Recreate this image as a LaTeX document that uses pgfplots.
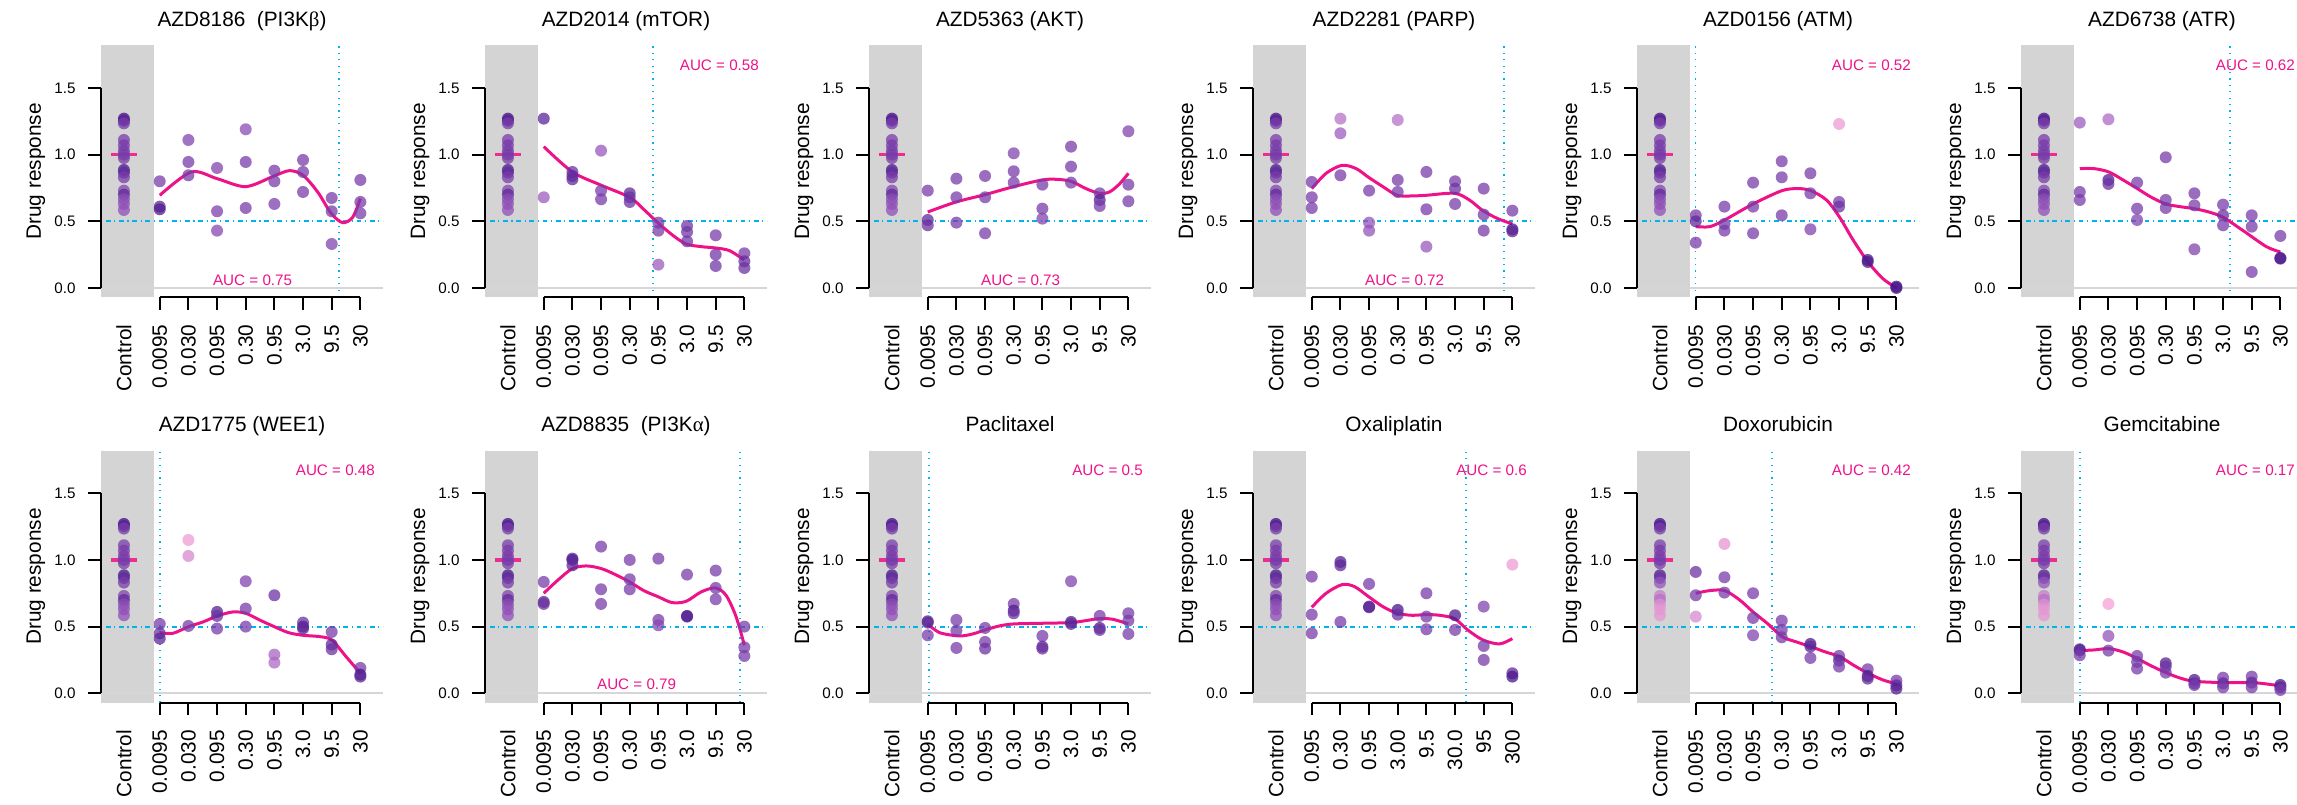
\documentclass[border=0pt]{standalone}
\usepackage{fontspec}
\setmainfont{Liberation Sans}
\newfontfamily\grk{Liberation Serif}
\usepackage{pgfplots}
\usepackage{pgfplotstable}
\pgfplotsset{compat=1.18}

\definecolor{boxgray}{RGB}{212,212,212}
\definecolor{zerogray}{RGB}{214,214,214}
\definecolor{skyb}{RGB}{0,178,238}
\definecolor{fitpink}{RGB}{238,18,137}

\newcommand{\fbig}{\fontsize{10.4}{12}\selectfont}
\newcommand{\fsmall}{\fontsize{7.6}{9}\selectfont}

% control wells (same in every panel, colours differ in two)
\pgfplotstableread{
x y c
-0.25 1.27 0
-0.25 1.255 0.4
-0.25 1.235 1
-0.25 1.11 1
-0.25 1.07 1
-0.25 1.03 1
-0.25 1.00 1
-0.25 0.975 1
-0.25 0.885 0.2
-0.25 0.865 0.6
-0.25 0.83 1
-0.25 0.73 1.2
-0.25 0.70 0.6
-0.25 0.665 1.4
-0.25 0.63 1.5
-0.25 0.585 1.5
}\ctrlA
\pgfplotstableread{
x y c
-0.25 1.27 0
-0.25 1.255 0.4
-0.25 1.235 1
-0.25 1.11 1
-0.25 1.07 1
-0.25 1.03 1
-0.25 1.00 1
-0.25 0.975 1
-0.25 0.885 0.3
-0.25 0.865 0.8
-0.25 0.83 1.6
-0.25 0.73 2.4
-0.25 0.70 2.2
-0.25 0.665 2.7
-0.25 0.63 2.8
-0.25 0.585 2.8
}\ctrlB

% doses: AZD8186
\pgfplotstableread{
x y c
1 0.80 1
1 0.61 0.6
1 0.59 0.3
2 1.11 1.2
2 0.945 1
2 0.845 1
3 0.90 1.2
3 0.575 1.1
3 0.43 1.3
4 1.19 1.4
4 0.945 1
4 0.60 1
5 0.88 1
5 0.80 1
5 0.63 1.1
6 0.96 1
6 0.87 1
6 0.72 1
7 0.675 1
7 0.575 1
7 0.33 1.2
8 0.81 1
8 0.645 1
8 0.56 1
}\ptsA
\pgfplotstableread{
x y
1.0 0.695
2.10 0.87
3.0 0.82
4.0 0.76
4.99 0.84
5.53 0.88
6.0 0.845
6.51 0.72
6.98 0.56
7.38 0.49
7.73 0.53
8.0 0.67
}\fitA

% AZD2014
\pgfplotstableread{
x y c
1 1.27 0.5
1 0.68 1.8
2 0.87 0.8
2 0.84 0.6
2 0.815 0.6
3 1.03 1.7
3 0.73 1
3 0.665 1
4 0.71 0.6
4 0.68 0.8
4 0.645 0.8
5 0.49 1
5 0.43 1
5 0.175 1.8
6 0.465 0.9
6 0.42 0.9
6 0.35 0.9
7 0.395 1
7 0.25 0.9
7 0.165 0.9
8 0.26 1
8 0.20 0.7
8 0.15 0.8
}\ptsB
\pgfplotstableread{
x y
1.0 1.06
2.0 0.87
3.01 0.77
4.0 0.68
4.46 0.595
4.98 0.49
5.5 0.395
5.97 0.33
6.49 0.31
6.99 0.30
7.48 0.28
7.99 0.21
}\fitB

% AZD5363
\pgfplotstableread{
x y c
1 0.73 1
1 0.51 0.6
1 0.47 0.8
2 0.82 1
2 0.68 1
2 0.49 1
3 0.84 1
3 0.68 1
3 0.41 1
4 1.01 1.2
4 0.875 1
4 0.79 1
5 0.775 1
5 0.595 1
5 0.52 1.2
6 1.06 1
6 0.91 1
6 0.79 1
7 0.71 1
7 0.66 0.4
7 0.615 1
8 1.175 1.2
8 0.775 1
8 0.65 1
}\ptsC
\pgfplotstableread{
x y
1.0 0.57
1.99 0.645
3.0 0.70
4.0 0.76
4.99 0.81
5.48 0.815
6.0 0.80
6.52 0.745
6.99 0.71
7.34 0.72
7.69 0.78
8.0 0.86
}\fitC

% AZD2281
\pgfplotstableread{
x y c
1 0.795 1
1 0.68 1
1 0.60 1
2 1.27 2.2
2 1.16 1.8
2 0.845 1
3 0.73 1
3 0.49 1.6
3 0.43 1.6
4 1.26 2.2
4 0.81 1
4 0.72 1
5 0.87 1
5 0.59 1
5 0.31 1.7
6 0.80 1
6 0.745 0.8
6 0.63 1
7 0.745 1
7 0.55 1
7 0.43 1
8 0.58 1
8 0.44 0.2
8 0.425 0.5
}\ptsD
\pgfplotstableread{
x y
1.0 0.745
1.5 0.86
2.06 0.92
2.55 0.895
2.98 0.83
3.48 0.76
3.98 0.695
4.47 0.69
4.99 0.695
5.98 0.71
6.5 0.66
6.97 0.58
7.49 0.52
8.0 0.48
}\fitD

% AZD0156
\pgfplotstableread{
x y c
1 0.545 1
1 0.50 0.6
1 0.34 1
2 0.61 1
2 0.48 1
2 0.43 1
3 0.79 1
3 0.61 1
3 0.41 1
4 0.95 1
4 0.83 1
4 0.545 1
5 0.86 1
5 0.71 1
5 0.44 1.2
6 1.23 2.9
6 0.645 1
6 0.61 0.8
7 0.21 0.2
7 0.195 0.3
8 0.01 0
8 0.0 0.2
}\ptsE
\pgfplotstableread{
x y
1.0 0.46
1.49 0.46
2.01 0.51
3.0 0.63
4.01 0.73
4.57 0.745
5.01 0.73
5.56 0.66
6.02 0.53
6.49 0.36
7.01 0.195
7.53 0.07
8.0 0.0
}\fitE

% AZD6738
\pgfplotstableread{
x y c
1 1.24 1.8
1 0.72 1
1 0.66 1
2 1.265 2.1
2 0.81 0.3
2 0.78 0.8
3 0.79 1
3 0.595 1
3 0.51 1.2
4 0.98 1
4 0.66 1
4 0.60 1
5 0.71 1
5 0.62 1
5 0.29 1.2
6 0.625 1
6 0.545 0.8
6 0.47 1
7 0.545 1
7 0.46 1
7 0.12 1
8 0.39 1
8 0.225 0.2
8 0.22 0.3
}\ptsF
\pgfplotstableread{
x y
1.0 0.895
1.5 0.895
2.01 0.87
2.51 0.81
3.01 0.745
3.5 0.68
4.0 0.63
4.49 0.61
4.99 0.595
5.5 0.57
6.0 0.53
6.7 0.43
7.51 0.31
8.0 0.27
}\fitF

% AZD1775
\pgfplotstableread{
x y c
1 0.52 1
1 0.45 0.8
1 0.41 0.5
2 1.15 2.9
2 1.03 2.6
2 0.505 1
3 0.61 0.4
3 0.58 0.8
3 0.485 1
4 0.84 1.2
4 0.635 1
4 0.50 1
5 0.735 0.8
5 0.29 2
5 0.23 2.1
6 0.53 0.8
6 0.50 0.4
6 0.485 0.6
7 0.46 1
7 0.365 0.6
7 0.33 0.8
8 0.19 1
8 0.14 0.2
8 0.125 0.5
}\ptsG
\pgfplotstableread{
x y
1.0 0.455
1.46 0.45
2.01 0.50
2.51 0.535
3.01 0.58
3.55 0.61
4.0 0.60
4.48 0.55
4.99 0.50
5.49 0.455
5.99 0.435
6.57 0.425
7.0 0.40
7.5 0.275
8.0 0.15
}\fitG

% AZD8835
\pgfplotstableread{
x y c
1 0.835 1
1 0.685 0.4
1 0.67 0.8
2 1.01 0.6
2 1.00 0.3
2 0.96 0.6
3 1.10 1
3 0.78 1
3 0.67 1
4 1.00 1
4 0.855 1
4 0.78 1
5 1.01 1
5 0.55 1
5 0.51 1.3
6 0.89 1
6 0.58 0.2
6 0.575 0.4
7 0.92 1
7 0.79 1
7 0.705 1
8 0.50 1
8 0.345 1
8 0.28 1
}\ptsH
\pgfplotstableread{
x y
1.0 0.75
1.5 0.85
2.0 0.935
2.49 0.955
3.01 0.935
3.5 0.89
4.0 0.835
4.49 0.77
4.98 0.725
5.48 0.68
5.97 0.69
6.49 0.76
6.99 0.79
7.36 0.735
7.71 0.575
8.0 0.36
}\fitH

% Paclitaxel
\pgfplotstableread{
x y c
1 0.54 0.3
1 0.53 0.6
1 0.435 1
2 0.55 1
2 0.47 1
2 0.34 1
3 0.49 1
3 0.385 1
3 0.335 0.8
4 0.67 1
4 0.62 0.3
4 0.60 0.8
5 0.43 1
5 0.35 0.5
5 0.335 0.8
6 0.84 1.2
6 0.535 0.3
6 0.52 0.6
7 0.58 1
7 0.49 0.4
7 0.475 0.8
8 0.60 1
8 0.545 1
8 0.445 1
}\ptsI
\pgfplotstableread{
x y
1.0 0.52
1.41 0.455
2.1 0.43
2.57 0.445
3.0 0.475
3.5 0.505
4.0 0.52
4.99 0.525
6.0 0.53
6.52 0.545
6.99 0.56
7.45 0.555
8.0 0.52
}\fitI

% Oxaliplatin
\pgfplotstableread{
x y c
1 0.875 1
1 0.59 1
1 0.45 1
2 0.985 0.4
2 0.96 0.6
2 0.535 1
3 0.82 1
3 0.65 0.3
3 0.645 0.5
4 0.625 0.2
4 0.59 0.8
5 0.75 1
5 0.575 1
5 0.48 1
6 0.585 0.3
6 0.475 1
7 0.65 1.2
7 0.355 1
7 0.25 1
8 0.965 2.9
8 0.15 0.6
8 0.125 0.2
}\ptsJ
\pgfplotstableread{
x y
1.0 0.645
1.5 0.75
2.06 0.815
2.49 0.80
2.98 0.725
3.48 0.65
3.98 0.60
4.49 0.585
4.99 0.59
5.45 0.585
5.98 0.56
6.44 0.475
6.97 0.40
7.55 0.37
8.0 0.41
}\fitJ

% Doxorubicin
\pgfplotstableread{
x y c
1 0.91 0.8
1 0.735 1
1 0.575 2.6
2 1.12 2.8
2 0.87 1
2 0.755 1
3 0.75 1
3 0.565 1
3 0.435 1.2
4 0.545 1
4 0.475 1
4 0.42 1
5 0.37 0.3
5 0.35 0.6
5 0.265 1
6 0.28 1
6 0.245 0.6
6 0.20 1
7 0.18 1
7 0.13 0.3
7 0.11 0.6
8 0.095 1
8 0.06 0.6
8 0.035 0.4
}\ptsK
\pgfplotstableread{
x y
1.0 0.75
1.49 0.77
2.01 0.77
2.53 0.70
3.0 0.61
3.52 0.52
4.01 0.425
4.51 0.385
5.01 0.35
5.52 0.31
6.02 0.275
6.51 0.21
7.01 0.15
7.53 0.10
8.0 0.07
}\fitK

% Gemcitabine
\pgfplotstableread{
x y c
1 0.33 0.3
1 0.32 0.5
1 0.285 1
2 0.67 3
2 0.43 1.6
2 0.32 1
3 0.28 1
3 0.235 1
3 0.185 1
4 0.225 0.4
4 0.20 0.8
4 0.155 1
5 0.10 0.3
5 0.075 0.6
5 0.062 1
6 0.117 1
6 0.075 0.6
6 0.045 1
7 0.125 1
7 0.08 0.6
7 0.045 1
8 0.062 0.2
8 0.045 0.5
8 0.025 1
}\ptsL
\pgfplotstableread{
x y
1.0 0.32
1.5 0.325
2.01 0.335
2.51 0.31
3.01 0.26
3.5 0.205
4.0 0.155
4.49 0.115
4.99 0.09
6.0 0.08
6.99 0.08
7.51 0.07
8.0 0.055
}\fitL

\pgfplotsset{
  panel/.style={
    scale only axis, width=141pt, height=126pt,
    xmin=-1.05, xmax=8.79, ymin=-0.07, ymax=1.82,
    clip=false,
    axis x line*=bottom, axis y line*=left,
    axis line style={draw=none,-},
    tick align=outside, major tick length=6.3pt,
    tick style={black, line width=1pt},
    xtick={1,2,3,4,5,6,7,8},
    ytick={0,0.5,1,1.5}, yticklabels={0.0,0.5,1.0,1.5},
    /pgf/number format/assume math mode=true,
    xticklabel style={rotate=90, anchor=east, font=\fbig, inner xsep=7.2pt, inner ysep=0pt},
    yticklabel style={anchor=east, font=\fsmall, inner xsep=6.2pt, inner ysep=0pt},
    colormap={pur}{rgb255=(62,14,132) rgb255=(120,60,170) rgb255=(165,100,195) rgb255=(244,162,214)},
    point meta min=0, point meta max=3,
  },
  stddoses/.style={xticklabels={0.0095,0.030,0.095,0.30,0.95,3.0,9.5,30}},
  oxadoses/.style={xticklabels={0.095,0.30,0.95,3.00,9.5,30.0,95,300}},
  dots/.style={scatter, only marks, mark=*, mark size=3pt, scatter src=explicit,
    scatter/use mapped color={draw=mapped color, fill=mapped color},
    mark options={fill opacity=0.75, draw opacity=0}},
  fit/.style={fitpink, line width=1.5pt, smooth, no marks},
}
\tikzset{
  half/.style={skyb, line width=0.9pt, dash pattern=on 0.6pt off 1.8pt on 2.4pt off 1.8pt},
  ic50/.style={skyb, line width=0.9pt, dash pattern=on 0.6pt off 2.6pt},
  auctop/.style={fitpink, font=\fsmall, anchor=base east, inner sep=0pt},
  aucbot/.style={fitpink, font=\fsmall, anchor=base, inner sep=0pt},
}

% #1 x, #2 y, #3 title, #4 control, #5 doses, #6 fit, #7 tick label style, #8 ic50 line and AUC
\newcommand{\drugpanel}[8]{%
\begin{axis}[panel, at={(#1,#2)}, anchor=south west, #7]
\fill[boxgray] (axis cs:-1.05,-0.07) rectangle (axis cs:0.8,1.82);
\draw[zerogray, line width=1pt] (axis cs:-1.05,0) -- (axis cs:8.79,0);
\draw[half] (axis cs:-1.05,0.5) -- (axis cs:8.79,0.5);
#8
\draw[line width=1pt] (axis cs:-1.05,0) -- (axis cs:-1.05,1.5);
\draw[line width=1pt] (axis cs:1,-0.07) -- (axis cs:8,-0.07);
\addplot[dots] table[x=x, y=y, meta=c] {#4};
\addplot[dots] table[x=x, y=y, meta=c] {#5};
\addplot[fit] table[x=x, y=y] {#6};
\draw[fitpink, line width=1.7pt, opacity=0.85] (axis cs:-0.71,1) -- (axis cs:0.21,1);
\node[rotate=90, anchor=east, inner sep=0pt, font=\fbig] at ([yshift=-13.5pt]axis cs:-0.25,-0.07) {Control};
\node[rotate=90, anchor=base, inner sep=0pt, font=\fbig] at ([xshift=-30pt]axis cs:-1.05,0.875) {Drug response};
\node[anchor=base, inner sep=0pt, font=\fbig] at ([yshift=9.5pt]axis cs:3.87,1.82) {#3};
\end{axis}}

\begin{document}
\begin{tikzpicture}
\useasboundingbox (0,0) rectangle (1148.5pt,402pt);

\drugpanel{50.5pt}{253.35pt}{AZD8186\ \ (PI3K{\grk β})}{\ctrlA}{\ptsA}{\fitA}{stddoses}
  {\draw[ic50] (axis cs:7.25,-0.07) -- (axis cs:7.25,1.82);
   \node[aucbot] at (axis cs:4.24,0.02) {AUC = 0.75};}
\drugpanel{242.5pt}{253.35pt}{AZD2014 (mTOR)}{\ctrlA}{\ptsB}{\fitB}{stddoses}
  {\draw[ic50] (axis cs:4.81,-0.07) -- (axis cs:4.81,1.82);
   \node[auctop] at (axis cs:8.52,1.63) {AUC = 0.58};}
\drugpanel{434.5pt}{253.35pt}{AZD5363 (AKT)}{\ctrlA}{\ptsC}{\fitC}{stddoses}
  {\node[aucbot] at (axis cs:4.24,0.02) {AUC = 0.73};}
\drugpanel{626.5pt}{253.35pt}{AZD2281 (PARP)}{\ctrlA}{\ptsD}{\fitD}{stddoses}
  {\draw[ic50] (axis cs:7.72,-0.07) -- (axis cs:7.72,1.82);
   \node[aucbot] at (axis cs:4.24,0.02) {AUC = 0.72};}
\drugpanel{818.5pt}{253.35pt}{AZD0156 (ATM)}{\ctrlA}{\ptsE}{\fitE}{stddoses}
  {\draw[ic50] (axis cs:0.99,-0.07) -- (axis cs:0.99,1.82);
   \node[auctop] at (axis cs:8.52,1.63) {AUC = 0.52};}
\drugpanel{1010.5pt}{253.35pt}{AZD6738 (ATR)}{\ctrlA}{\ptsF}{\fitF}{stddoses}
  {\draw[ic50] (axis cs:6.23,-0.07) -- (axis cs:6.23,1.82);
   \node[auctop] at (axis cs:8.52,1.63) {AUC = 0.62};}

\drugpanel{50.5pt}{50.7pt}{AZD1775 (WEE1)}{\ctrlA}{\ptsG}{\fitG}{stddoses}
  {\draw[ic50] (axis cs:1.0,-0.07) -- (axis cs:1.0,1.82);
   \node[auctop] at (axis cs:8.52,1.63) {AUC = 0.48};}
\drugpanel{242.5pt}{50.7pt}{AZD8835\ \ (PI3K{\grk α})}{\ctrlA}{\ptsH}{\fitH}{stddoses}
  {\draw[ic50] (axis cs:7.85,-0.07) -- (axis cs:7.85,1.82);
   \node[aucbot] at (axis cs:4.24,0.03) {AUC = 0.79};}
\drugpanel{434.5pt}{50.7pt}{Paclitaxel}{\ctrlA}{\ptsI}{\fitI}{stddoses}
  {\draw[ic50] (axis cs:1.03,-0.07) -- (axis cs:1.03,1.82);
   \node[auctop] at (axis cs:8.52,1.63) {AUC = 0.5};}
\drugpanel{626.5pt}{50.7pt}{Oxaliplatin}{\ctrlA}{\ptsJ}{\fitJ}{oxadoses}
  {\draw[ic50] (axis cs:6.38,-0.07) -- (axis cs:6.38,1.82);
   \node[auctop] at (axis cs:8.52,1.63) {AUC = 0.6};}
\drugpanel{818.5pt}{50.7pt}{Doxorubicin}{\ctrlB}{\ptsK}{\fitK}{stddoses}
  {\draw[ic50] (axis cs:3.66,-0.07) -- (axis cs:3.66,1.82);
   \node[auctop] at (axis cs:8.52,1.63) {AUC = 0.42};}
\drugpanel{1010.5pt}{50.7pt}{Gemcitabine}{\ctrlB}{\ptsL}{\fitL}{stddoses}
  {\draw[ic50] (axis cs:1.0,-0.07) -- (axis cs:1.0,1.82);
   \node[auctop] at (axis cs:8.52,1.63) {AUC = 0.17};}
\end{tikzpicture}
\end{document}
